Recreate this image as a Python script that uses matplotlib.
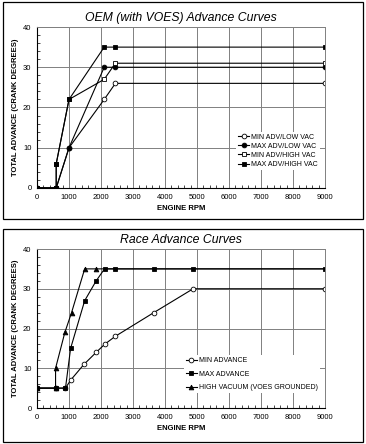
import matplotlib.pyplot as plt
from matplotlib.patches import Rectangle
from matplotlib.ticker import MultipleLocator

plt.rcParams['font.family'] = ['Liberation Sans', 'DejaVu Sans']

# OEM (with VOES) curves
oem_min_low_rpm = [0, 600, 1000, 2100, 2450, 9000]
oem_min_low_adv = [0, 0, 10, 22, 26, 26]
oem_max_low_rpm = [0, 600, 1000, 2100, 2450, 9000]
oem_max_low_adv = [0, 0, 10, 30, 30, 30]
oem_min_high_rpm = [0, 600, 600, 1000, 2100, 2450, 9000]
oem_min_high_adv = [0, 0, 6, 22, 27, 31, 31]
oem_max_high_rpm = [0, 600, 600, 1000, 2100, 2450, 9000]
oem_max_high_adv = [0, 0, 6, 22, 35, 35, 35]

# Race curves
race_min_rpm = [0, 580, 890, 1050, 1470, 1850, 2110, 2440, 3650, 4880, 9000]
race_min_adv = [5, 5, 5, 7, 11, 14, 16, 18, 24, 30, 30]
race_max_rpm = [0, 580, 890, 1050, 1490, 1850, 2110, 2440, 3650, 4880, 9000]
race_max_adv = [5, 5, 5, 15, 27, 32, 35, 35, 35, 35, 35]
race_vac_rpm = [0, 580, 580, 870, 1080, 1490, 1850, 2110, 9000]
race_vac_adv = [5, 5, 10, 19, 24, 35, 35, 35, 35]

fig = plt.figure(figsize=(3.66, 4.44), dpi=100)

# panel frames
for y0, h in [(1 - 219/444, 217/444), (1 - 442/444, 213/444)]:
    fig.patches.append(Rectangle((3/366, y0), 360/366, h, transform=fig.transFigure,
                                 fill=False, edgecolor='black', linewidth=0.9))


def style_axes(ax, title):
    ax.set_xlim(0, 9000)
    ax.set_ylim(0, 40)
    ax.xaxis.set_major_locator(MultipleLocator(1000))
    ax.xaxis.set_minor_locator(MultipleLocator(200))
    ax.yaxis.set_major_locator(MultipleLocator(10))
    ax.yaxis.set_minor_locator(MultipleLocator(2))
    ax.grid(True, which='major', color='#808080', linewidth=0.7)
    ax.tick_params(which='major', labelsize=5.5, length=0, pad=4)
    ax.tick_params(which='minor', direction='in', length=2, width=0.5)
    ax.tick_params(axis='y', which='minor', left=True)
    for s in ['top', 'right']:
        ax.spines[s].set_color('#808080')
        ax.spines[s].set_linewidth(0.7)
    for s in ['left', 'bottom']:
        ax.spines[s].set_linewidth(0.8)
    ax.set_xlabel('ENGINE RPM', fontsize=5.5, fontweight='bold', labelpad=3)
    ax.set_ylabel('TOTAL ADVANCE (CRANK DEGREES)', fontsize=5.5, fontweight='bold', labelpad=3)
    ax.set_title(title, fontsize=8.8, style='italic', pad=4)


kw = dict(color='black', linewidth=0.8, markersize=3.4, markeredgewidth=0.6)

ax1 = fig.add_axes([37/366, 1 - 188/444, 288/366, 161/444])
ax1.plot(oem_min_low_rpm, oem_min_low_adv, marker='o', markerfacecolor='white', label='MIN ADV/LOW VAC', **kw)
ax1.plot(oem_max_low_rpm, oem_max_low_adv, marker='o', markerfacecolor='black', label='MAX ADV/LOW VAC', **kw)
ax1.plot(oem_min_high_rpm, oem_min_high_adv, marker='s', markerfacecolor='white', label='MIN ADV/HIGH VAC', **kw)
ax1.plot(oem_max_high_rpm, oem_max_high_adv, marker='s', markerfacecolor='black', label='MAX ADV/HIGH VAC', **kw)
style_axes(ax1, 'OEM (with VOES) Advance Curves')
leg1 = ax1.legend(loc='lower right', bbox_to_anchor=(0.995, 0.09), fontsize=5, frameon=True,
                  handlelength=1.6, handletextpad=0.3, labelspacing=0.3, borderpad=0.3)
leg1.get_frame().set_edgecolor('none')
leg1.get_frame().set_alpha(1)

ax2 = fig.add_axes([37/366, 1 - 408/444, 288/366, 159/444])
ax2.plot(race_min_rpm, race_min_adv, marker='o', markerfacecolor='white', label='MIN ADVANCE', **kw)
ax2.plot(race_max_rpm, race_max_adv, marker='s', markerfacecolor='black', label='MAX ADVANCE', **kw)
ax2.plot(race_vac_rpm, race_vac_adv, marker='^', markerfacecolor='black', label='HIGH VACUUM (VOES GROUNDED)',
         markevery=[0, 1, 2, 3, 4, 5, 6], **kw)
style_axes(ax2, 'Race Advance Curves')
leg2 = ax2.legend(loc='lower right', bbox_to_anchor=(0.995, 0.07), fontsize=5, frameon=True,
                  handlelength=1.6, handletextpad=0.3, labelspacing=0.95, borderpad=0.3)
leg2.get_frame().set_edgecolor('none')
leg2.get_frame().set_alpha(1)

fig.savefig('out.png', dpi=100)
